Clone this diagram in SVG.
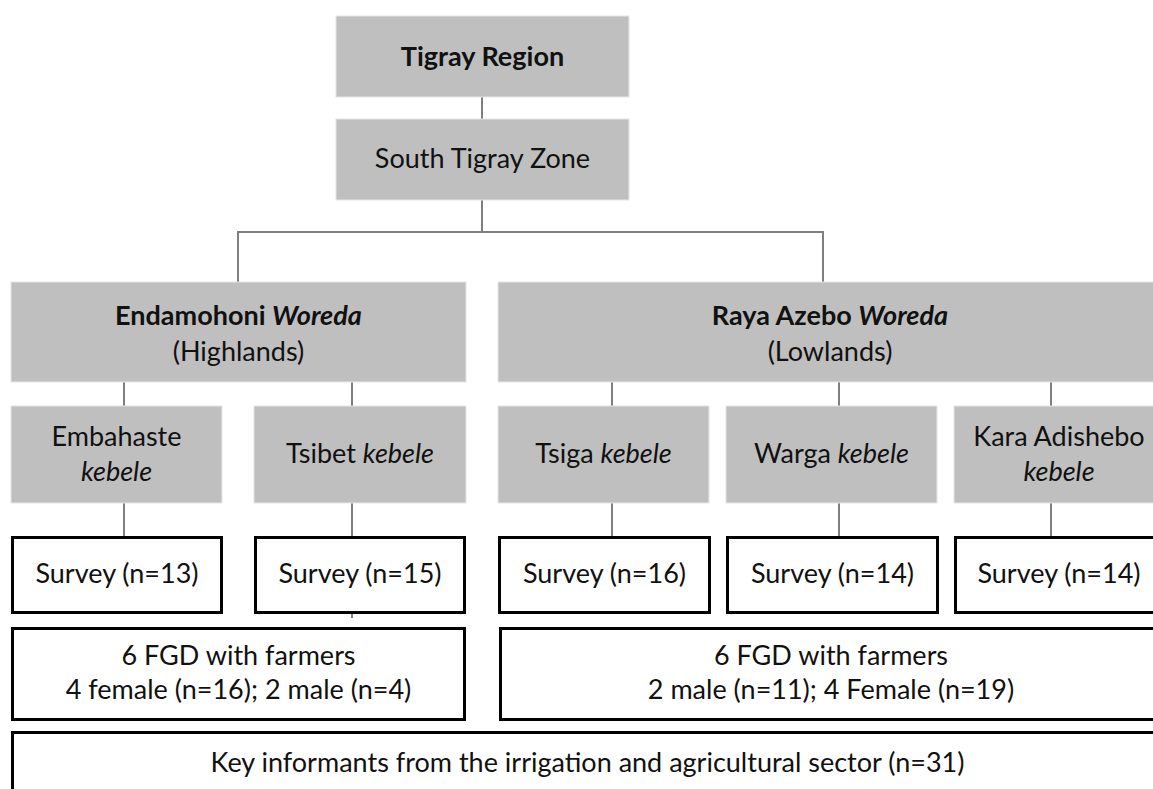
<svg xmlns="http://www.w3.org/2000/svg" width="1153" height="789" viewBox="0 0 1153 789">
  <style>
    .grey { fill: #bfbfbf; stroke: #e6e6e6; stroke-width: 1; }
    .outline { fill: #ffffff; stroke: #000000; stroke-width: 3; }
    .link { stroke: #7f7f7f; stroke-width: 2; fill: none; }
    text { font-family: Lato, "Open Sans", "Liberation Sans", sans-serif; font-size: 27px; fill: #111111; text-anchor: middle; }
    .b { font-weight: bold; }
    .i { font-style: italic; }
  </style>
  <rect width="1153" height="789" fill="#ffffff"/>

  <!-- connectors -->
  <g id="connectors">
    <line class="link" x1="482" y1="97" x2="482" y2="119"/>
    <line class="link" x1="482" y1="200" x2="482" y2="232"/>
    <line class="link" x1="237" y1="232" x2="824" y2="232"/>
    <line class="link" x1="238" y1="232" x2="238" y2="282"/>
    <line class="link" x1="823" y1="232" x2="823" y2="282"/>
    <line class="link" x1="124" y1="382" x2="124" y2="406"/>
    <line class="link" x1="352" y1="382" x2="352" y2="406"/>
    <line class="link" x1="612" y1="382" x2="612" y2="406"/>
    <line class="link" x1="839" y1="382" x2="839" y2="406"/>
    <line class="link" x1="1051" y1="382" x2="1051" y2="406"/>
    <line class="link" x1="124" y1="503" x2="124" y2="536"/>
    <line class="link" x1="352" y1="503" x2="352" y2="536"/>
    <line class="link" x1="612" y1="503" x2="612" y2="536"/>
    <line class="link" x1="839" y1="503" x2="839" y2="536"/>
    <line class="link" x1="1051" y1="503" x2="1051" y2="536"/>
    <line class="link" x1="352" y1="614" x2="352" y2="618"/>
  </g>

  <!-- administrative levels -->
  <g id="tigray-region">
    <rect class="grey" x="336" y="16" width="293" height="81"/>
    <text class="b" x="482.5" y="66">Tigray Region</text>
  </g>
  <g id="south-tigray-zone">
    <rect class="grey" x="336" y="119" width="293" height="81"/>
    <text x="482.5" y="168">South Tigray Zone</text>
  </g>

  <g id="endamohoni-woreda">
    <rect class="grey" x="11" y="282" width="455" height="100"/>
    <text class="b" x="238.5" y="325">Endamohoni <tspan class="i">Woreda</tspan></text>
    <text x="238.5" y="361">(Highlands)</text>
  </g>
  <g id="raya-azebo-woreda">
    <rect class="grey" x="498" y="282" width="665" height="100"/>
    <text class="b" x="830" y="325">Raya Azebo <tspan class="i">Woreda</tspan></text>
    <text x="830" y="361">(Lowlands)</text>
  </g>

  <!-- kebeles -->
  <g id="embahaste-kebele">
    <rect class="grey" x="11" y="406" width="211" height="97"/>
    <text x="116.5" y="446">Embahaste</text>
    <text class="i" x="116.5" y="481">kebele</text>
  </g>
  <g id="tsibet-kebele">
    <rect class="grey" x="254" y="406" width="212" height="97"/>
    <text x="360" y="463">Tsibet <tspan class="i">kebele</tspan></text>
  </g>
  <g id="tsiga-kebele">
    <rect class="grey" x="498" y="406" width="211" height="97"/>
    <text x="603.5" y="463">Tsiga <tspan class="i">kebele</tspan></text>
  </g>
  <g id="warga-kebele">
    <rect class="grey" x="726" y="406" width="211" height="97"/>
    <text x="831.5" y="463">Warga <tspan class="i">kebele</tspan></text>
  </g>
  <g id="kara-adishebo-kebele">
    <rect class="grey" x="954" y="406" width="211" height="97"/>
    <text x="1059" y="446">Kara Adishebo</text>
    <text class="i" x="1059" y="481">kebele</text>
  </g>

  <!-- surveys -->
  <g id="survey-embahaste">
    <rect class="outline" x="12.5" y="537.5" width="209" height="75"/>
    <text x="117" y="583">Survey (n=13)</text>
  </g>
  <g id="survey-tsibet">
    <rect class="outline" x="255.5" y="537.5" width="209" height="75"/>
    <text x="360" y="583">Survey (n=15)</text>
  </g>
  <g id="survey-tsiga">
    <rect class="outline" x="499.5" y="537.5" width="210" height="75"/>
    <text x="604.5" y="583">Survey (n=16)</text>
  </g>
  <g id="survey-warga">
    <rect class="outline" x="727.5" y="537.5" width="210" height="75"/>
    <text x="832.5" y="583">Survey (n=14)</text>
  </g>
  <g id="survey-kara-adishebo">
    <rect class="outline" x="955.5" y="537.5" width="209" height="75"/>
    <text x="1059" y="583">Survey (n=14)</text>
  </g>

  <!-- focus group discussions -->
  <g id="fgd-highlands">
    <rect class="outline" x="12.5" y="628.5" width="452" height="91"/>
    <text x="238.5" y="665">6 FGD with farmers</text>
    <text x="238.5" y="699">4 female (n=16); 2 male (n=4)</text>
  </g>
  <g id="fgd-lowlands">
    <rect class="outline" x="500.5" y="628.5" width="662" height="91"/>
    <text x="831" y="665">6 FGD with farmers</text>
    <text x="831" y="699">2 male (n=11); 4 Female (n=19)</text>
  </g>

  <!-- key informants -->
  <g id="key-informants">
    <rect class="outline" x="12.5" y="732.5" width="1150" height="100"/>
    <text x="587.5" y="772">Key informants from the irrigation and agricultural sector (n=31)</text>
  </g>
</svg>
